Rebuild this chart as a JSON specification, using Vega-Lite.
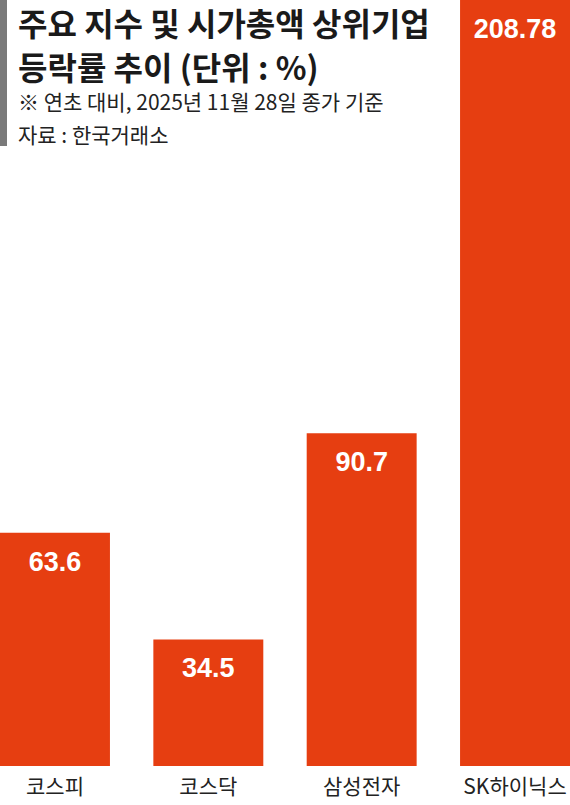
{
  "$schema": "https://vega.github.io/schema/vega-lite/v6.json",
  "description": "주요 지수 및 시가총액 상위기업 등락률 추이",
  "width": 570,
  "height": 766,
  "padding": {"top": 0, "left": 0, "right": 0, "bottom": 39},
  "autosize": {"type": "none"},
  "background": "white",
  "title": {
    "text": ["주요 지수 및 시가총액 상위기업", "등락률 추이 (단위 : %)"],
    "subtitle": ["※ 연초 대비, 2025년 11월 28일 종가 기준", "자료 : 한국거래소"],
    "anchor": "start",
    "frame": "group",
    "orient": "top",
    "offset": 0,
    "dx": 18,
    "dy": 151,
    "font": "Noto Sans CJK KR",
    "fontSize": 32,
    "fontWeight": "bold",
    "lineHeight": 44,
    "color": "#1a1a1a",
    "subtitleFont": "Noto Sans CJK KR",
    "subtitleFontSize": 21,
    "subtitleLineHeight": 33,
    "subtitleColor": "#222222",
    "subtitlePadding": 6
  },
  "data": {
    "values": [
      {"name": "코스피", "rate": 63.6, "label": "63.6"},
      {"name": "코스닥", "rate": 34.5, "label": "34.5"},
      {"name": "삼성전자", "rate": 90.7, "label": "90.7"},
      {"name": "SK하이닉스", "rate": 208.78, "label": "208.78"}
    ]
  },
  "encoding": {
    "x": {
      "field": "name",
      "type": "nominal",
      "sort": null,
      "title": null,
      "scale": {"paddingInner": 0.283, "paddingOuter": 0},
      "axis": {
        "domain": false,
        "ticks": false,
        "labelAngle": 0,
        "labelFont": "Noto Sans CJK KR",
        "labelFontSize": 21,
        "labelColor": "#222222",
        "labelPadding": 10
      }
    },
    "y": {
      "field": "rate",
      "type": "quantitative",
      "scale": {"domain": [0, 208.78], "nice": false},
      "axis": null
    }
  },
  "layer": [
    {
      "mark": {"type": "bar", "color": "#E63E11"}
    },
    {
      "mark": {
        "type": "text",
        "color": "white",
        "font": "Liberation Sans",
        "fontWeight": "bold",
        "fontSize": 27,
        "baseline": "middle",
        "dy": 30
      },
      "encoding": {"text": {"field": "label"}}
    },
    {
      "mark": {"type": "rule", "color": "#7a7a7a", "strokeWidth": 7, "xOffset": 3.5},
      "encoding": {
        "x": {"datum": "코스피", "bandPosition": 0},
        "y": {"datum": 208.78},
        "y2": {"datum": 169}
      }
    }
  ],
  "config": {"view": {"stroke": null}}
}
